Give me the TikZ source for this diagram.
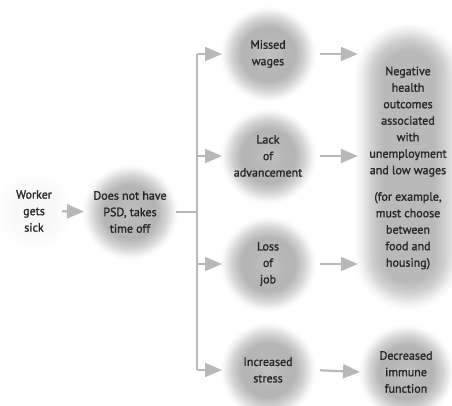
\documentclass[tikz,border=0pt]{standalone}
\usepackage{fontspec}
\setmainfont{PT Sans}[FakeBold=1.3]
\usetikzlibrary{arrows.meta,backgrounds,shapes.geometric}
\definecolor{blobc}{HTML}{A8A8A8}
\definecolor{arrc}{HTML}{B8B8B8}
\definecolor{textc}{HTML}{262626}
\pgfdeclareradialshading{blobshade}{\pgfpoint{0bp}{0bp}}{%
  color(0bp)=(blobc!72!white); color(10bp)=(blobc!85!white); color(14bp)=(blobc!85!white); color(19bp)=(blobc!50!white); color(23bp)=(blobc!12!white); color(25bp)=(white); color(50bp)=(white)}
\pgfdeclareradialshading{negshade}{\pgfpoint{0bp}{0bp}}{%
  color(0bp)=(blobc!80!white); color(12bp)=(blobc!80!white); color(17bp)=(blobc!55!white); color(22bp)=(blobc!15!white); color(25bp)=(white); color(50bp)=(white)}
\pgfdeclarehorizontalshading{neghshade}{100bp}{%
  color(0bp)=(white); color(25bp)=(white); color(28bp)=(blobc!15!white); color(33bp)=(blobc!55!white); color(38bp)=(blobc!80!white); color(50bp)=(blobc!80!white); color(62bp)=(blobc!80!white); color(67bp)=(blobc!55!white); color(72bp)=(blobc!15!white); color(75bp)=(white); color(100bp)=(white)}
\pgfdeclareradialshading{faintshade}{\pgfpoint{0bp}{0bp}}{%
  color(0bp)=(blobc!10!white); color(12bp)=(blobc!8!white); color(25bp)=(white); color(50bp)=(white)}
\tikzset{
  txt/.style={text=textc, align=center, font=\fontsize{12}{16.5}\selectfont, inner sep=0pt},
  blobnode/.style={txt, circle, minimum size=96pt, shade, shading=blobshade, outer sep=-2pt},
  faintnode/.style={txt, circle, minimum size=80pt, shade, shading=faintshade, outer sep=-12pt},
  ln/.style={draw=arrc, line width=2.2pt},
  arr/.style={ln, -{Triangle[length=17pt,width=14pt]}},
  outarr/.style={arr, shorten <=6pt},
}
\begin{document}
\begin{tikzpicture}[x=1pt,y=-1pt]
\useasboundingbox (0,0) rectangle (452,405);
\clip (0,0) rectangle (452,405);
% nodes
\node[faintnode] (worker) at (34,211) {Worker\\gets\\sick};
\node[blobnode] (psd) at (130,212) {Does not have\\PSD, takes\\time off};
\node[blobnode] (missed) at (268,54) {Missed\\wages};
\node[blobnode] (lack) at (268,156) {Lack\\of\\advancement};
\node[blobnode] (loss) at (268,264) {Loss\\of\\job};
\node[blobnode] (stress) at (268,370) {Increased\\stress};
\node[blobnode] (immune) at (406,372) {Decreased\\immune\\function};
\node[txt, minimum width=100pt, minimum height=290pt] (neg) at (408,168)
  {Negative\\health\\outcomes\\associated\\with\\unemployment\\and low wages\\[10pt](for example,\\must choose\\between\\food and\\housing)};
\begin{scope}[on background layer]
  \coordinate (ntop) at ([yshift=92pt]neg.center);
  \coordinate (nbot) at ([yshift=-88pt]neg.center);
  \shade[shading=neghshade] ([xshift=-54pt]ntop) rectangle ([xshift=54pt]nbot);
  \begin{scope}
    \clip ([xshift=-60pt]ntop) rectangle ([xshift=60pt,yshift=60pt]ntop);
    \shade[shading=negshade] (ntop) circle (54pt);
  \end{scope}
  \begin{scope}
    \clip ([xshift=-60pt]nbot) rectangle ([xshift=60pt,yshift=-60pt]nbot);
    \shade[shading=negshade] (nbot) circle (54pt);
  \end{scope}
\end{scope}
% spine
\coordinate (vtop) at (197,54);
\coordinate (vbot) at (197,370);
\draw[arr] (worker) -- (psd);
\draw[ln] (psd.east) -- (psd.east -| vtop);
\draw[ln] (vtop) -- (vbot);
\draw[arr] (vtop) -- (missed.west);
\draw[arr] (lack.west -| vtop) -- (lack.west);
\draw[arr] (loss.west -| vtop) -- (loss.west);
\draw[arr] (vbot) -- (stress.west);
% outcomes
\draw[outarr] (missed.east) -- (missed.east -| neg.west);
\draw[outarr] (lack.east) -- (lack.east -| neg.west);
\draw[outarr] (loss.east) -- (loss.east -| neg.west);
\draw[outarr] (stress.east) -- (immune.west);
\end{tikzpicture}
\end{document}
